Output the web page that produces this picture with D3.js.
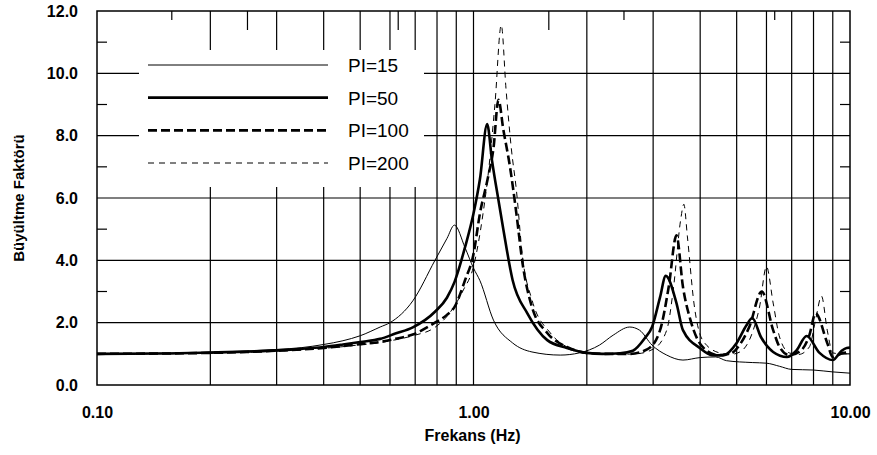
<!DOCTYPE html>
<html>
<head>
<meta charset="utf-8">
<script src="https://cdn.jsdelivr.net/npm/d3@7"></script>
<style>
  body { margin: 0; background: #fff; }
  svg text { font-family: "Liberation Sans", Arial, sans-serif; fill: #000; }
</style>
</head>
<body>
<div id="chart"></div>
<script>
// ---- data ----
var seriesNames = ["PI=15", "PI=50", "PI=100", "PI=200"];

var pi15 = [[0.1,1.0],[0.15,1.02],[0.2,1.05],[0.25,1.09],[0.3,1.14],[0.35,1.2],[0.4,1.3],[0.45,1.42],
  [0.5,1.58],[0.565,1.86],[0.6,2.0],[0.69,2.7],[0.79,4.0],[0.85,4.7],[0.89,5.13],[0.95,4.4],[1.0,3.75],
  [1.04,3.35],[1.13,2.08],[1.27,1.35],[1.43,1.06],[1.7,0.96],[1.91,1.03],[2.16,1.28],[2.35,1.6],[2.6,1.86],
  [2.76,1.76],[2.98,1.28],[3.26,0.96],[3.6,0.8],[4.0,0.88],[4.4,0.9],[4.7,0.78],[5.5,0.72],[6.0,0.7],
  [6.5,0.6],[7.0,0.5],[8.0,0.48],[9.0,0.42],[10,0.38]];

var pi50 = [[0.1,1.0],[0.15,1.01],[0.2,1.04],[0.25,1.07],[0.3,1.11],[0.35,1.16],[0.4,1.22],[0.45,1.3],
  [0.5,1.38],[0.565,1.48],[0.62,1.65],[0.69,1.85],[0.79,2.35],[0.85,2.8],[0.89,3.3],[0.95,4.43],[1.0,5.5],
  [1.04,6.6],[1.087,8.37],[1.12,7.2],[1.166,5.9],[1.2,5.0],[1.27,3.37],[1.39,2.3],[1.57,1.44],[1.77,1.19],
  [2.0,1.03],[2.2,1.0],[2.45,1.02],[2.65,1.1],[2.85,1.5],[2.98,1.86],[3.13,2.82],[3.24,3.5],[3.46,2.63],
  [3.6,1.76],[3.99,1.19],[4.3,0.96],[4.6,0.95],[5.0,1.35],[5.3,1.9],[5.5,2.15],[5.8,1.54],[6.25,1.06],
  [6.8,0.9],[7.2,1.1],[7.67,1.57],[8.3,1.03],[9.0,0.8],[9.5,1.1],[9.8,1.19],[10,1.2]];

var pi100 = [[0.1,1.0],[0.15,1.01],[0.2,1.03],[0.25,1.06],[0.3,1.1],[0.35,1.14],[0.4,1.19],[0.45,1.25],
  [0.5,1.31],[0.565,1.38],[0.62,1.48],[0.69,1.62],[0.79,2.0],[0.85,2.25],[0.89,2.5],[0.95,3.37],[1.0,4.2],
  [1.04,5.5],[1.09,6.6],[1.13,7.6],[1.165,9.15],[1.2,8.2],[1.25,7.0],[1.3,5.5],[1.35,3.9],[1.43,2.5],
  [1.57,1.67],[1.77,1.22],[2.0,1.03],[2.25,1.0],[2.6,1.0],[2.9,1.15],[3.13,1.76],[3.3,3.15],[3.46,4.8],
  [3.6,3.15],[3.77,2.08],[4.06,1.22],[4.45,0.96],[4.8,1.0],[5.1,1.3],[5.4,1.86],[5.83,3.0],[6.25,1.76],
  [6.5,1.22],[6.9,0.96],[7.4,1.1],[7.8,1.6],[8.1,2.3],[8.7,1.35],[9.0,0.9],[9.6,1.03],[10,1.05]];

var pi200 = [[0.1,1.0],[0.15,1.01],[0.2,1.03],[0.25,1.05],[0.3,1.09],[0.35,1.13],[0.4,1.18],[0.45,1.23],
  [0.5,1.29],[0.565,1.36],[0.62,1.45],[0.69,1.58],[0.79,1.85],[0.85,2.2],[0.94,3.05],[1.0,3.8],[1.06,5.5],
  [1.09,6.6],[1.14,9.0],[1.185,11.55],[1.22,9.5],[1.26,7.6],[1.3,6.25],[1.35,4.1],[1.43,2.73],[1.6,1.67],
  [1.77,1.22],[2.0,1.03],[2.3,0.98],[2.7,1.0],[3.0,1.15],[3.26,1.76],[3.4,3.15],[3.55,5.3],[3.62,5.8],
  [3.7,4.75],[3.85,2.63],[4.06,1.44],[4.5,1.03],[4.8,0.98],[5.1,1.06],[5.5,1.67],[5.75,2.5],[6.0,3.8],
  [6.25,2.63],[6.5,1.54],[6.9,1.03],[7.3,0.98],[7.8,1.22],[8.1,2.08],[8.4,2.85],[8.7,1.76],[9.0,1.03],
  [9.5,1.0],[10,1.0]];

var xTickLabels = [0.1, 1, 10];
var xGrid = [0.2,0.3,0.4,0.5,0.6,0.7,0.8,0.9,1,2,3,4,5,6,7,8,9];
var yTickLabels = [0,2,4,6,8,10,12];
var yGrid = [2,4,6,8,10];
var yMinor = [1,3,5,7,9,11];
var topTicksShort = [0.158, 2.51, 6.31];
var topTicksLong = [0.251, 0.631, 1.585];

// ---- layout ----
var W = 877, H = 455;
var plotL = 97, plotR = 850, plotT = 11, plotB = 385;

var svg = d3.select("#chart").append("svg")
  .attr("width", W).attr("height", H);

var x = d3.scaleLog().domain([0.1, 10]).range([plotL, plotR]);
var y = d3.scaleLinear().domain([0, 12]).range([plotB, plotT]);

// grid
var grid = svg.append("g").attr("stroke", "#000").attr("stroke-width", 1.2);
grid.selectAll("line.vg").data(xGrid).enter().append("line")
  .attr("x1", function(d) { return x(d); }).attr("x2", function(d) { return x(d); })
  .attr("y1", plotT).attr("y2", plotB);
grid.selectAll("line.hg").data(yGrid).enter().append("line")
  .attr("x1", plotL).attr("x2", plotR)
  .attr("y1", function(d) { return y(d); }).attr("y2", function(d) { return y(d); });

// minor ticks, left and right, inward
grid.selectAll("line.ml").data(yMinor).enter().append("line")
  .attr("x1", plotL).attr("x2", plotL + 10)
  .attr("y1", function(d) { return y(d); }).attr("y2", function(d) { return y(d); });
grid.selectAll("line.mr").data(yMinor).enter().append("line")
  .attr("x1", plotR - 10).attr("x2", plotR)
  .attr("y1", function(d) { return y(d); }).attr("y2", function(d) { return y(d); });
// odd ticks along the top
grid.selectAll("line.ts").data(topTicksShort).enter().append("line")
  .attr("x1", function(d) { return x(d); }).attr("x2", function(d) { return x(d); })
  .attr("y1", plotT).attr("y2", plotT + 9);
grid.selectAll("line.tl").data(topTicksLong).enter().append("line")
  .attr("x1", function(d) { return x(d); }).attr("x2", function(d) { return x(d); })
  .attr("y1", plotT).attr("y2", plotT + 19);

// legend box hides the grid behind it
svg.append("rect")
  .attr("x", 139).attr("y", 50).attr("width", 285).attr("height", 137)
  .attr("fill", "#fff");

// frame
svg.append("rect")
  .attr("x", plotL).attr("y", plotT).attr("width", plotR - plotL).attr("height", plotB - plotT)
  .attr("fill", "none").attr("stroke", "#000").attr("stroke-width", 1.5);

// axes labels
var yAxis = d3.axisLeft(y).tickValues(yTickLabels).tickFormat(d3.format(".1f")).tickSize(0).tickPadding(19);
svg.append("g").attr("transform", "translate(" + plotL + ",0)").call(yAxis)
  .call(function(g) { g.select(".domain").remove(); })
  .selectAll("text").attr("font-size", "16px").attr("font-weight", "bold")
  .attr("font-family", "Liberation Sans, Arial, sans-serif");

var xAxis = d3.axisBottom(x).tickValues(xTickLabels).tickFormat(d3.format(".2f")).tickSize(0).tickPadding(22);
svg.append("g").attr("transform", "translate(0," + plotB + ")").call(xAxis)
  .call(function(g) { g.select(".domain").remove(); })
  .selectAll("text").attr("font-size", "16px").attr("font-weight", "bold")
  .attr("font-family", "Liberation Sans, Arial, sans-serif");

svg.append("text")
  .attr("x", (plotL + plotR) / 2 - 1).attr("y", 441)
  .attr("text-anchor", "middle").attr("font-size", "16px").attr("font-weight", "bold")
  .text("Frekans (Hz)");

svg.append("text")
  .attr("transform", "translate(24," + ((plotT + plotB) / 2) + ") rotate(-90)")
  .attr("text-anchor", "middle").attr("font-size", "15px").attr("font-weight", "bold")
  .text("Büyültme Faktörü");

// curves
var styles = [
  {w: 1, dash: null},
  {w: 2.6, dash: null},
  {w: 2.6, dash: "9,4"},
  {w: 1, dash: "6,5"}
];
var allSeries = [pi15, pi50, pi100, pi200];

var line = d3.line()
  .curve(d3.curveMonotoneX)
  .x(function(d) { return x(d[0]); })
  .y(function(d) { return y(d[1]); });

svg.append("g").selectAll("path").data(allSeries).enter().append("path")
  .attr("d", line)
  .attr("fill", "none")
  .attr("stroke", "#000")
  .attr("stroke-linejoin", "round")
  .attr("stroke-width", function(d, i) { return styles[i].w; })
  .attr("stroke-dasharray", function(d, i) { return styles[i].dash; });

// legend
var leg = svg.append("g");
var legY = d3.scaleLinear().domain([0, 3]).range([65, 163]);
seriesNames.forEach(function(name, i) {
  leg.append("line")
    .attr("x1", 148).attr("x2", 328)
    .attr("y1", legY(i)).attr("y2", legY(i))
    .attr("stroke", "#000")
    .attr("stroke-width", styles[i].w)
    .attr("stroke-dasharray", styles[i].dash);
  leg.append("text")
    .attr("x", 348).attr("y", legY(i) + 7)
    .attr("font-size", "19px")
    .text(name);
});
</script>
</body>
</html>
